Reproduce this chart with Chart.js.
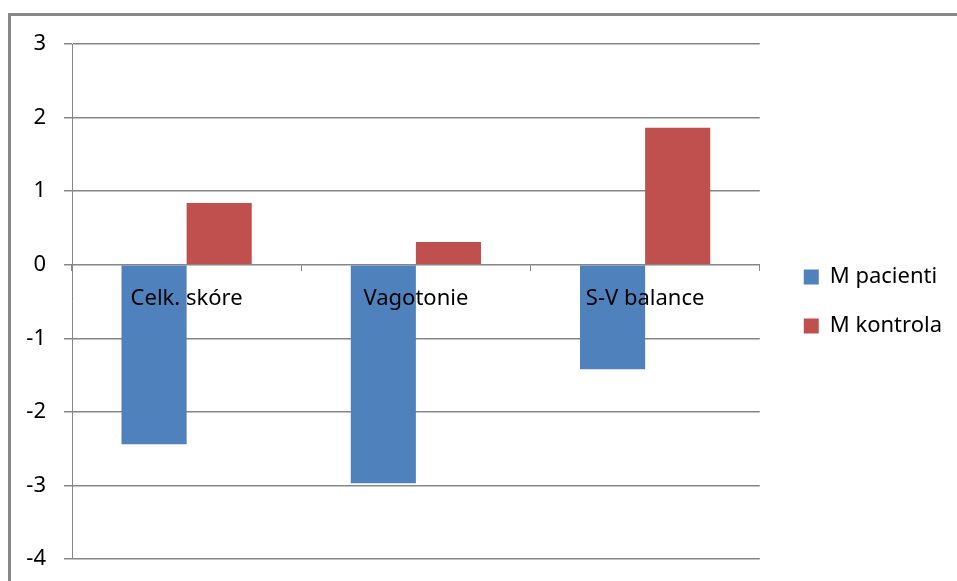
<!DOCTYPE html>
<html>
<head>
<meta charset="utf-8">
<script src="https://cdn.jsdelivr.net/npm/chart.js@4.4.1/dist/chart.umd.min.js"></script>
<style>
  html, body { margin: 0; padding: 0; background: #fff; overflow: hidden; }
  #frame {
    position: absolute; left: 8px; top: 13px;
    width: 1000px; height: 700px;
    border: 3px solid #888;
  }
  #wrap { position: absolute; left: 0; top: 0; width: 957px; height: 581px; }
</style>
</head>
<body>
<div id="frame"></div>
<div id="wrap"><canvas id="bar-chart"></canvas></div>
<script>
// Categories and series
var categories = ["Celk. skóre", "Vagotonie", "S-V balance"];
var mPacienti = [-2.44, -2.97, -1.42];
var mKontrola = [0.84, 0.31, 1.86];
var yTicks = [3, 2, 1, 0, -1, -2, -3, -4];

var gridColor = "#868686";
var fontFace = "'Noto Sans', sans-serif";

var ctx = document.getElementById("bar-chart");

// Chart Data
var chartData = {
    labels: categories,
    datasets: [{
        label: "M pacienti",
        data: mPacienti,
        backgroundColor: "#4F81BD",
        categoryPercentage: 0.568,
        barPercentage: 1.0
    }, {
        label: "M kontrola",
        data: mKontrola,
        backgroundColor: "#C0504D",
        categoryPercentage: 0.568,
        barPercentage: 1.0
    }]
};

// Chart Options
var chartOptions = {
    responsive: true,
    maintainAspectRatio: false,
    animation: false,
    layout: {
        padding: { left: 0, top: 44, right: 5, bottom: 22 }
    },
    plugins: {
        tooltip: { enabled: false },
        legend: {
            position: "right",
            align: "center",
            maxWidth: 200,
            labels: {
                boxWidth: 15,
                boxHeight: 15,
                padding: 27,
                color: "#000",
                font: { family: fontFace, size: 22 }
            }
        }
    },
    scales: {
        x: {
            position: { y: 0 },
            offset: true,
            grid: {
                drawOnChartArea: false,
                drawTicks: true,
                tickLength: 6,
                color: gridColor,
                lineWidth: 1
            },
            border: { display: true, color: gridColor, width: 1 },
            // category names sit on top of the bars
            ticks: {
                z: 1,
                padding: 15,
                color: "#000",
                font: { family: fontFace, size: 22 }
            }
        },
        y: {
            min: -4,
            max: 3,
            afterBuildTicks: function (scale) {
                scale.ticks = yTicks.map(function (v) { return { value: v }; });
            },
            afterFit: function (scale) {
                scale.width = 72;
                // the outer padding already leaves room for the end labels
                scale.paddingTop = 0;
                scale.paddingBottom = 0;
            },
            grid: {
                color: gridColor,
                lineWidth: 1.5,
                tickLength: 8
            },
            border: { display: true, color: gridColor, width: 1 },
            ticks: {
                padding: 18,
                color: "#000",
                font: { family: fontFace, size: 22 }
            }
        },
        // empty spacer between the plot and the legend
        spacer: {
            type: "linear",
            axis: "y",
            position: "right",
            display: true,
            grid: { display: false },
            border: { display: false },
            ticks: { display: false },
            afterFit: function (scale) { scale.width = 17; }
        }
    }
};

var config = {
    type: "bar",
    options: chartOptions,
    data: chartData
};

// Create the chart
var barChart = new Chart(ctx, config);
</script>
</body>
</html>
